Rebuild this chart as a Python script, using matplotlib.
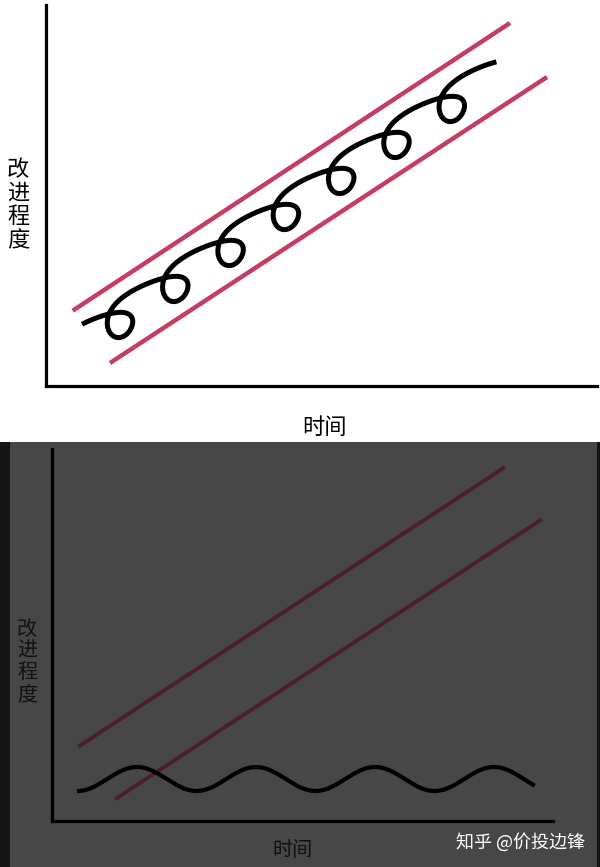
import numpy as np
import matplotlib
matplotlib.use("Agg")
import matplotlib.pyplot as plt
from matplotlib.patches import Rectangle

plt.rcParams['font.family'] = ['Noto Sans CJK SC', 'DejaVu Sans']

# ---- data (axis units = pixel offsets from each panel's origin) ----
# top panel: channel lines
top_upper_x = [26.7, 464.0]
top_upper_y = [75.3, 363.0]
top_lower_x = [64.0, 501.0]
top_lower_y = [23.0, 309.0]
# top panel: looping progress curve
loop_first_x = 74.0
loop_first_y = 68.5
loop_count = 7
loop_step_x = 55.3
loop_step_y = 36.0
loop_reach = 25.0
loop_lift = 18.0
loop_sag = 2.0
loop_lean = 0.5
loop_t_start = -3.45
loop_t_end = 3.66

# bottom panel: channel lines
bot_upper_x = [26.3, 453.0]
bot_upper_y = [74.3, 354.0]
bot_lower_x = [63.0, 489.7]
bot_lower_y = [21.7, 301.7]
# bottom panel: flat wave
wave_x_start = 27.0
wave_x_end = 481.0
wave_first_peak = 85.0
wave_period = 119.0
wave_mid = 42.0
wave_amp = 12.0

y_label = "改\n进\n程\n度"
x_label = "时间"
watermark = "知乎 @价投边锋"

W, H = 600, 867
fig = plt.figure(figsize=(6, 8.67), dpi=100)
fig.patch.set_facecolor('white')

# dark lower half
split = 442
fig.patches.append(Rectangle((0, 0), 1, (H - split) / H, transform=fig.transFigure,
                             facecolor='#474747', edgecolor='none', zorder=-10))
fig.patches.append(Rectangle((0, 0), 10 / W, (H - split) / H, transform=fig.transFigure,
                             facecolor='#141416', edgecolor='none', zorder=-9))
fig.patches.append(Rectangle((597 / W, 0), 3 / W, (H - split) / H, transform=fig.transFigure,
                             facecolor='#141416', edgecolor='none', zorder=-9))


def panel(x0, y0, x1, y1):
    ax = fig.add_axes([x0 / W, 1 - y1 / H, (x1 - x0) / W, (y1 - y0) / H])
    ax.set_xlim(0, x1 - x0)
    ax.set_ylim(0, y1 - y0)
    ax.patch.set_alpha(0)
    for s in ['top', 'right']:
        ax.spines[s].set_visible(False)
    for s in ['left', 'bottom']:
        ax.spines[s].set_linewidth(2.3)
        ax.spines[s].set_color('black')
    ax.set_xticks([])
    ax.set_yticks([])
    return ax


# ---- top panel ----
ax1 = panel(46, 5, 597, 386)
red = '#C43D63'
ax1.plot(top_upper_x, top_upper_y, color=red, lw=3.2, solid_capstyle='butt')
ax1.plot(top_lower_x, top_lower_y, color=red, lw=3.2, solid_capstyle='butt')

k = loop_step_x / (2 * np.pi)
slope = loop_step_y / loop_step_x
t = np.linspace(loop_t_start, 2 * np.pi * (loop_count - 1) + loop_t_end, 3000)
cx = loop_first_x + k * t - loop_reach * np.sin(t)
cy = (loop_first_y + slope * (k * t - loop_lean * loop_reach * np.sin(t))
      - loop_lift * np.cos(t) - loop_sag * np.cos(2 * t))
ax1.plot(cx, cy, color='black', lw=3.6, solid_capstyle='butt')

fig.text(18 / W, 1 - 205 / H, y_label, fontsize=16, linespacing=1.05,
         ha='center', va='center', color='black', fontweight='light')
fig.text(324 / W, 1 - 428 / H, x_label, fontsize=16, ha='center', va='center',
         color='black', fontweight='light')

# ---- bottom panel ----
ax2 = panel(52, 449, 553, 821)
dark_red = '#4C1F2D'
ax2.plot(bot_upper_x, bot_upper_y, color=dark_red, lw=2.8, solid_capstyle='butt', zorder=2)
ax2.plot(bot_lower_x, bot_lower_y, color=dark_red, lw=2.8, solid_capstyle='butt', zorder=2)

wx = np.linspace(wave_x_start, wave_x_end, 1000)
wy = wave_mid + wave_amp * np.cos(2 * np.pi * (wx - wave_first_peak) / wave_period)
ax2.plot(wx, wy, color='black', lw=3.0, zorder=3)

fig.text(27 / W, 1 - 662 / H, y_label, fontsize=14.5, linespacing=1.05,
         ha='center', va='center', color='#111111', fontweight='light')
fig.text(293 / W, 1 - 851 / H, x_label, fontsize=14.5, ha='center', va='center',
         color='#111111', fontweight='light')
fig.text(520 / W, 1 - 842 / H, watermark, fontsize=13, ha='center', va='center',
         color='white', fontweight='medium')

fig.savefig('out.png', dpi=100, facecolor=fig.get_facecolor())
